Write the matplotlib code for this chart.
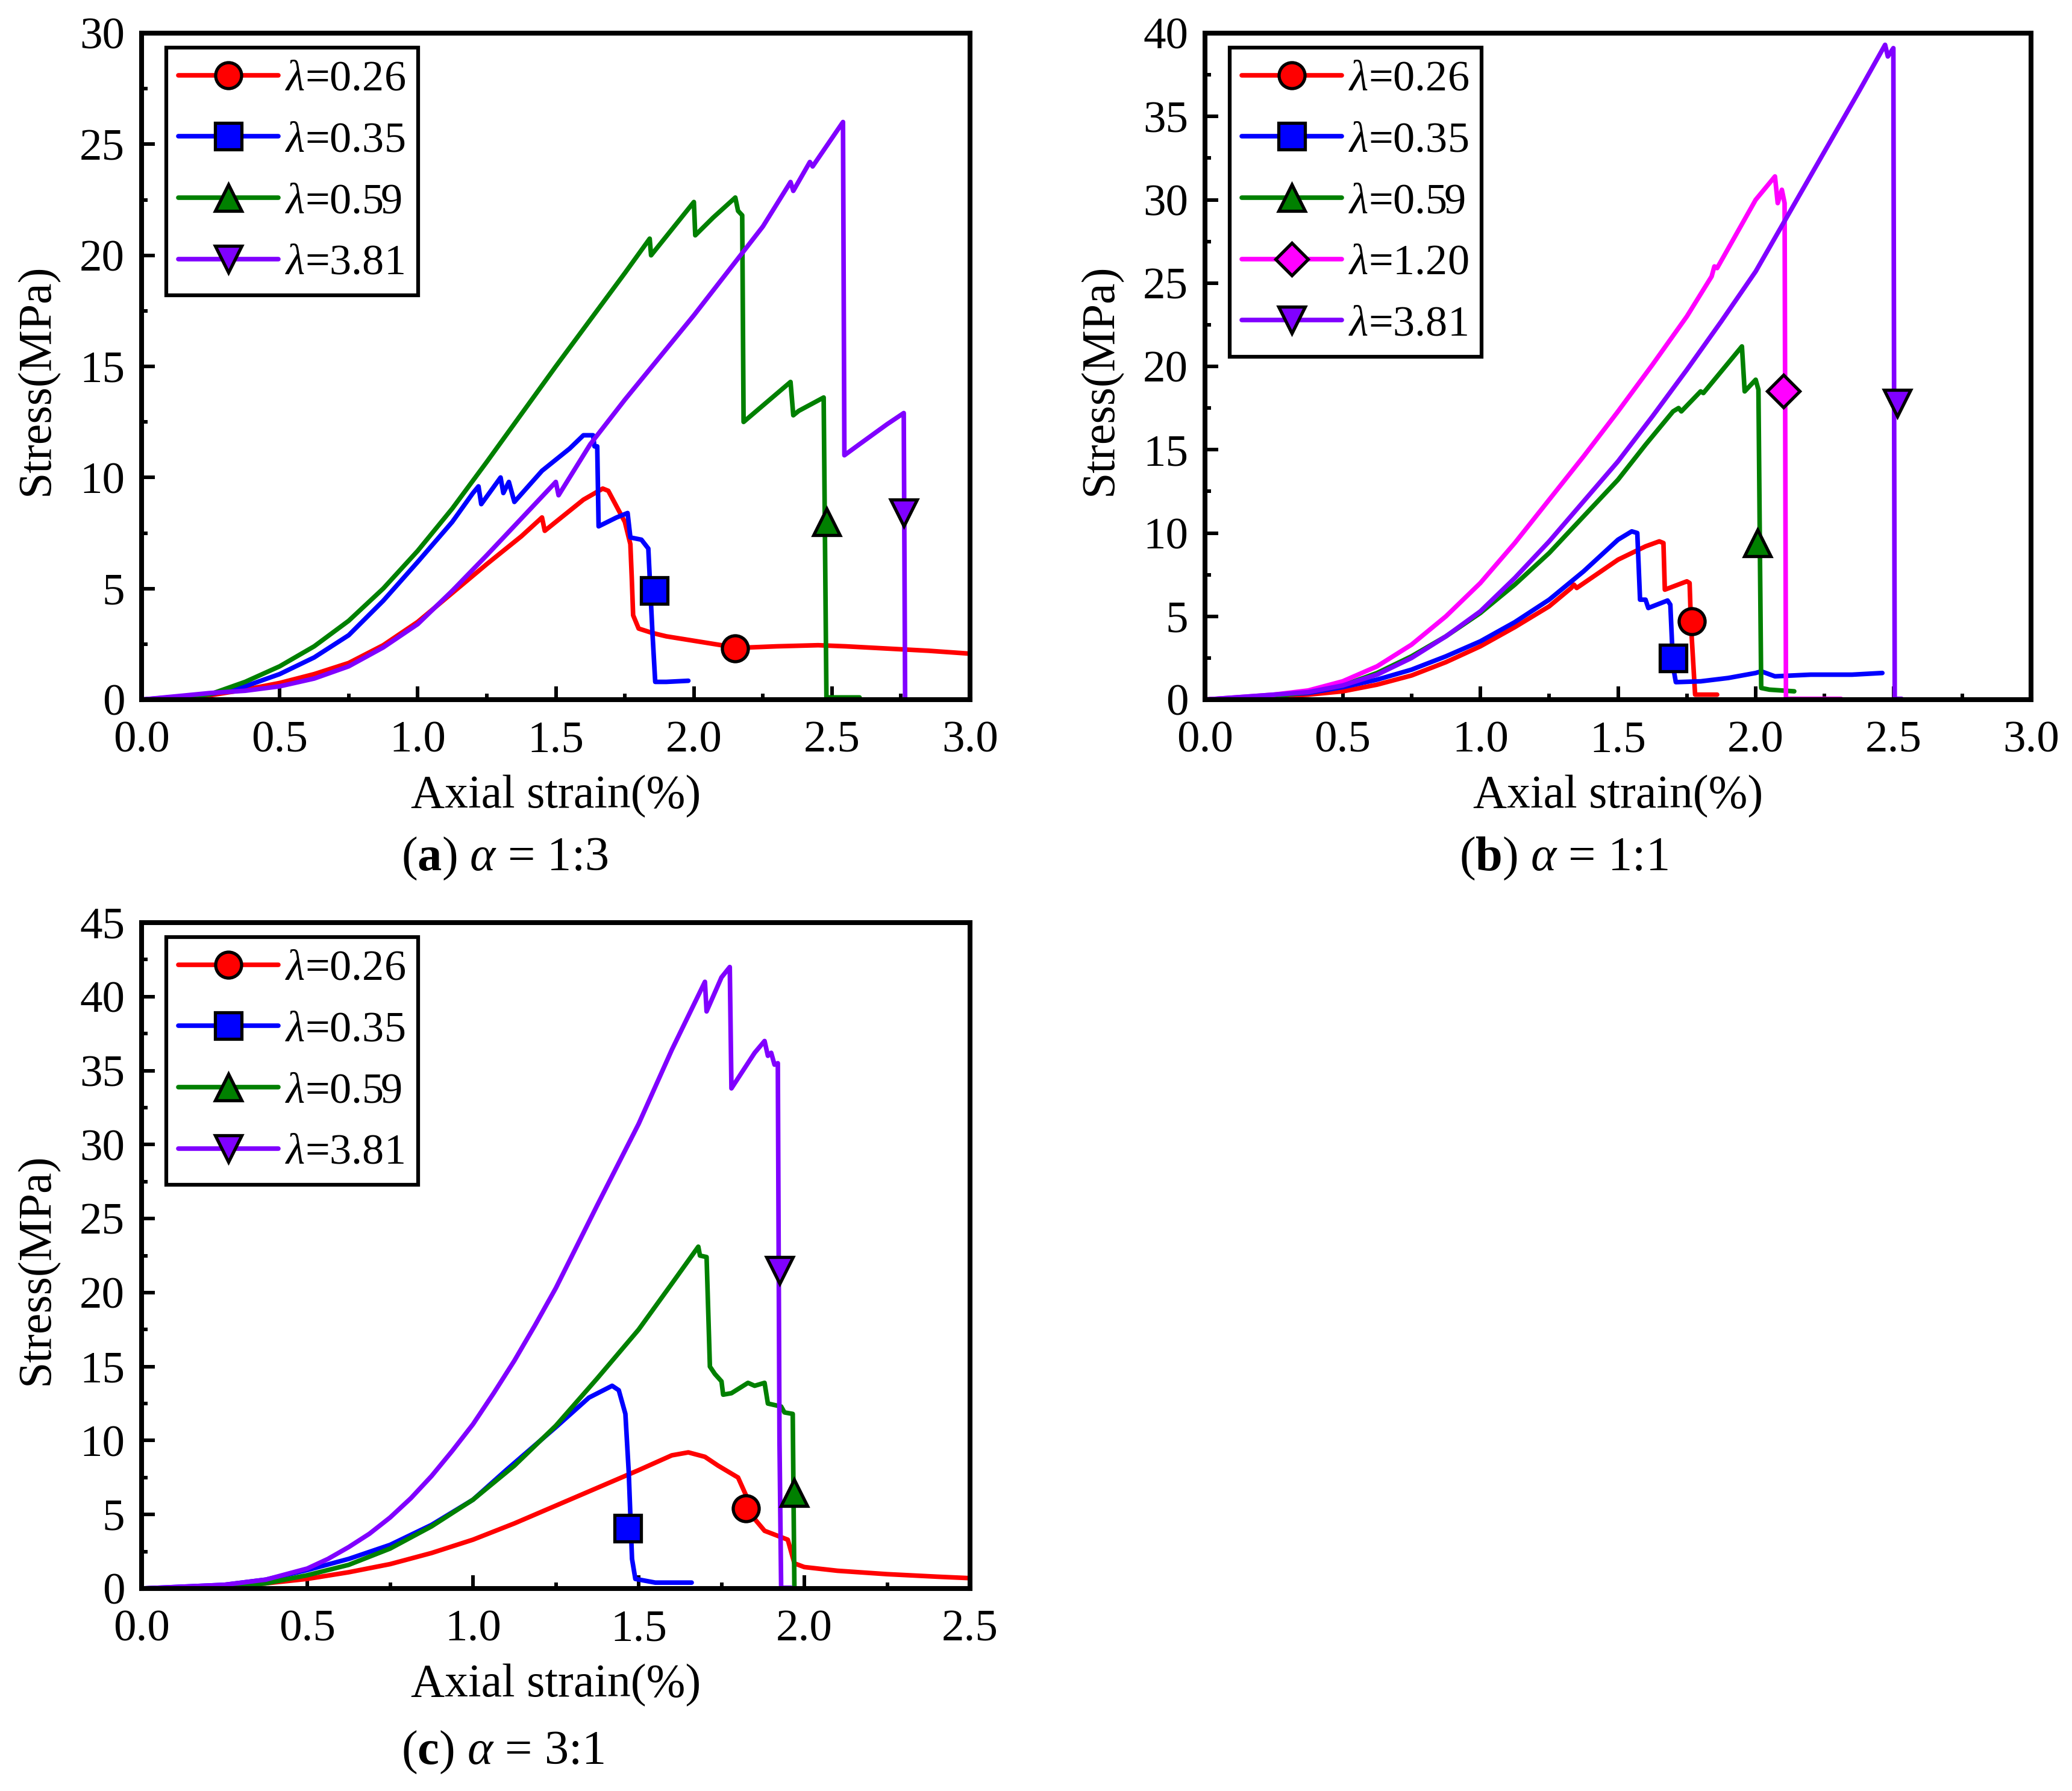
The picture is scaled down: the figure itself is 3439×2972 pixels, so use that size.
import matplotlib
matplotlib.use("Agg")
import matplotlib.pyplot as plt
from matplotlib.lines import Line2D
from matplotlib.ticker import MultipleLocator

plt.rcParams['font.family'] = ['Liberation Serif', 'DejaVu Serif']
plt.rcParams['mathtext.fontset'] = 'custom'
plt.rcParams['mathtext.rm'] = 'Liberation Serif'
plt.rcParams['mathtext.it'] = 'Liberation Serif:italic'
plt.rcParams['mathtext.bf'] = 'Liberation Serif:bold'

# ---------------- data ----------------
labels = ['0.26', '0.35', '0.59', '1.20', '3.81']
colors = {'0.26': '#FF0000', '0.35': '#0000FF', '0.59': '#008000',
          '1.20': '#FF00FF', '3.81': '#8000FF'}
markers = {'0.26': 'o', '0.35': 's', '0.59': '^', '1.20': 'D', '3.81': 'v'}

# Panel (a) alpha = 1:3
a_red_x = [0, 0.25, 0.375, 0.5, 0.625, 0.75, 0.875, 1.0, 1.125, 1.25, 1.375, 1.45, 1.46, 1.5, 1.6, 1.67, 1.69, 1.72, 1.75, 1.77, 1.775, 1.78, 1.8, 1.85, 1.9, 2.0, 2.1, 2.15, 2.2, 2.3, 2.45, 2.55, 2.7, 2.85, 3.0]
a_red_y = [0, 0.2, 0.45, 0.75, 1.15, 1.65, 2.45, 3.5, 4.8, 6.1, 7.35, 8.2, 7.6, 8.0, 9.0, 9.5, 9.4, 8.7, 8.0, 7.0, 5.5, 3.8, 3.2, 3.0, 2.85, 2.65, 2.45, 2.3, 2.35, 2.4, 2.45, 2.4, 2.3, 2.2, 2.07]
a_blue_x = [0, 0.25, 0.375, 0.5, 0.625, 0.75, 0.875, 1.0, 1.125, 1.2, 1.22, 1.23, 1.3, 1.31, 1.33, 1.35, 1.45, 1.55, 1.6, 1.635, 1.64, 1.65, 1.655, 1.72, 1.76, 1.77, 1.81, 1.835, 1.85, 1.86, 1.9, 1.98]
a_blue_y = [0, 0.25, 0.6, 1.15, 1.9, 2.9, 4.45, 6.2, 8.0, 9.3, 9.6, 8.8, 10.0, 9.3, 9.8, 8.9, 10.3, 11.3, 11.9, 11.9, 11.4, 11.4, 7.8, 8.2, 8.4, 7.3, 7.2, 6.8, 3.0, 0.8, 0.8, 0.85]
a_green_x = [0, 0.125, 0.25, 0.375, 0.5, 0.625, 0.75, 0.875, 1.0, 1.125, 1.25, 1.375, 1.5, 1.625, 1.75, 1.84, 1.845, 2.0, 2.005, 2.07, 2.15, 2.16, 2.175, 2.18, 2.35, 2.36, 2.38, 2.47, 2.48, 2.6]
a_green_y = [0, 0.05, 0.25, 0.8, 1.5, 2.4, 3.55, 5.0, 6.7, 8.6, 10.7, 12.85, 15.0, 17.1, 19.2, 20.75, 20.0, 22.4, 20.9, 21.7, 22.6, 22.0, 21.8, 12.5, 14.3, 12.8, 13.0, 13.6, 0.1, 0.1]
a_purple_x = [0, 0.25, 0.375, 0.5, 0.625, 0.75, 0.875, 1.0, 1.125, 1.25, 1.375, 1.5, 1.51, 1.625, 1.75, 1.875, 2.0, 2.125, 2.25, 2.35, 2.36, 2.42, 2.43, 2.54, 2.545, 2.6, 2.7, 2.76, 2.765]
a_purple_y = [0, 0.3, 0.4, 0.6, 0.95, 1.5, 2.35, 3.4, 4.9, 6.5, 8.15, 9.8, 9.2, 11.5, 13.5, 15.4, 17.3, 19.3, 21.3, 23.3, 22.9, 24.2, 24.0, 26.0, 11.0, 11.5, 12.4, 12.9, 0]
a_marker_x = [2.15, 1.856, 2.48, 2.76]
a_marker_y = [2.3, 4.9, 8.0, 8.4]

# Panel (b) alpha = 1:1
b_red_x = [0, 0.25, 0.375, 0.5, 0.625, 0.75, 0.875, 1.0, 1.125, 1.25, 1.33, 1.34, 1.35, 1.5, 1.6, 1.65, 1.665, 1.67, 1.75, 1.76, 1.765, 1.78, 1.86]
b_red_y = [0, 0.2, 0.3, 0.5, 0.9, 1.45, 2.25, 3.2, 4.35, 5.6, 6.7, 6.9, 6.7, 8.4, 9.2, 9.5, 9.4, 6.6, 7.1, 7.0, 4.5, 0.3, 0.3]
b_blue_x = [0, 0.25, 0.375, 0.5, 0.625, 0.75, 0.875, 1.0, 1.125, 1.25, 1.375, 1.5, 1.55, 1.57, 1.58, 1.6, 1.61, 1.68, 1.69, 1.70, 1.71, 1.8, 1.9, 2.0, 2.02, 2.07, 2.2, 2.35, 2.46]
b_blue_y = [0, 0.25, 0.4, 0.75, 1.2, 1.8, 2.6, 3.5, 4.65, 6.0, 7.7, 9.6, 10.1, 10.0, 6.0, 6.0, 5.5, 5.95, 5.7, 2.0, 1.05, 1.1, 1.3, 1.6, 1.7, 1.4, 1.5, 1.5, 1.6]
b_green_x = [0, 0.25, 0.375, 0.5, 0.625, 0.75, 0.875, 1.0, 1.125, 1.25, 1.375, 1.5, 1.6, 1.7, 1.72, 1.73, 1.8, 1.81, 1.95, 1.96, 2.0, 2.01, 2.015, 2.02, 2.05, 2.14]
b_green_y = [0, 0.2, 0.45, 0.85, 1.6, 2.6, 3.8, 5.2, 6.9, 8.8, 11.0, 13.2, 15.3, 17.3, 17.5, 17.3, 18.5, 18.4, 21.2, 18.5, 19.2, 18.6, 9.5, 0.7, 0.6, 0.5]
b_mag_x = [0, 0.25, 0.375, 0.5, 0.625, 0.75, 0.875, 1.0, 1.125, 1.25, 1.375, 1.5, 1.625, 1.75, 1.84, 1.85, 1.86, 2.0, 2.07, 2.08, 2.095, 2.105, 2.11, 2.31]
b_mag_y = [0, 0.3, 0.55, 1.1, 2.0, 3.3, 5.0, 7.0, 9.4, 12.0, 14.6, 17.3, 20.1, 23.0, 25.4, 26.0, 25.9, 30.0, 31.4, 29.8, 30.6, 29.8, 0.05, 0.05]
b_purple_x = [0, 0.25, 0.375, 0.5, 0.625, 0.75, 0.875, 1.0, 1.125, 1.25, 1.375, 1.5, 1.625, 1.75, 1.875, 2.0, 2.125, 2.25, 2.375, 2.47, 2.48, 2.50, 2.505, 2.53]
b_purple_y = [0, 0.3, 0.45, 0.85, 1.5, 2.5, 3.8, 5.3, 7.3, 9.5, 11.9, 14.3, 17.0, 19.8, 22.7, 25.7, 29.3, 32.9, 36.5, 39.3, 38.6, 39.1, 0.05, 0.05]
b_marker_x = [1.767, 1.70, 2.006, 2.10, 2.514]
b_marker_y = [4.7, 2.5, 9.4, 18.5, 17.8]

# Panel (c) alpha = 3:1
c_red_x = [0, 0.25, 0.375, 0.5, 0.625, 0.75, 0.875, 1.0, 1.125, 1.25, 1.375, 1.5, 1.6, 1.65, 1.7, 1.74, 1.8, 1.83, 1.85, 1.88, 1.95, 1.97, 2.0, 2.1, 2.25, 2.4, 2.5]
c_red_y = [0, 0.15, 0.35, 0.65, 1.1, 1.65, 2.4, 3.3, 4.4, 5.6, 6.8, 8.0, 9.0, 9.2, 8.9, 8.3, 7.5, 6.0, 4.7, 3.9, 3.3, 1.7, 1.45, 1.2, 0.97, 0.8, 0.7]
c_blue_x = [0, 0.25, 0.375, 0.5, 0.625, 0.75, 0.875, 1.0, 1.1, 1.25, 1.35, 1.42, 1.44, 1.46, 1.47, 1.48, 1.49, 1.55, 1.66]
c_blue_y = [0, 0.25, 0.6, 1.25, 2.0, 2.95, 4.3, 6.0, 8.0, 10.9, 12.9, 13.7, 13.4, 11.8, 7.9, 2.0, 0.65, 0.4, 0.4]
c_green_x = [0, 0.25, 0.375, 0.5, 0.625, 0.75, 0.875, 1.0, 1.125, 1.25, 1.375, 1.5, 1.6, 1.68, 1.685, 1.705, 1.715, 1.73, 1.75, 1.755, 1.78, 1.83, 1.85, 1.88, 1.89, 1.93, 1.94, 1.965, 1.97]
c_green_y = [0, 0.1, 0.35, 0.9, 1.6, 2.7, 4.2, 6.0, 8.3, 11.0, 14.2, 17.5, 20.6, 23.1, 22.5, 22.4, 15.0, 14.5, 14.0, 13.1, 13.2, 13.9, 13.7, 13.9, 12.5, 12.3, 11.9, 11.8, 0]
c_purple_x = [0, 0.25, 0.375, 0.5, 0.5625, 0.625, 0.6875, 0.75, 0.8125, 0.875, 0.9375, 1.0, 1.0625, 1.125, 1.1875, 1.25, 1.375, 1.5, 1.6, 1.7, 1.705, 1.75, 1.775, 1.78, 1.85, 1.88, 1.89, 1.90, 1.91, 1.92, 1.925, 1.93, 1.96]
c_purple_y = [0, 0.25, 0.6, 1.35, 2.0, 2.8, 3.7, 4.8, 6.1, 7.6, 9.3, 11.1, 13.2, 15.4, 17.8, 20.3, 25.9, 31.4, 36.4, 41.0, 39.0, 41.3, 42.0, 33.8, 36.2, 37.0, 36.0, 36.2, 35.4, 35.5, 10.0, 0.05, 0.05]
c_marker_x = [1.824, 1.468, 1.969, 1.926]
c_marker_y = [5.4, 4.06, 6.46, 21.5]

panels = [
    dict(key='a', ratio='1:3', xlim=3.0, ylim=30, ytick=5,
         series=[('0.26', a_red_x, a_red_y), ('0.35', a_blue_x, a_blue_y),
                 ('0.59', a_green_x, a_green_y), ('3.81', a_purple_x, a_purple_y)],
         mx=a_marker_x, my=a_marker_y),
    dict(key='b', ratio='1:1', xlim=3.0, ylim=40, ytick=5,
         series=[('0.26', b_red_x, b_red_y), ('0.35', b_blue_x, b_blue_y),
                 ('0.59', b_green_x, b_green_y), ('1.20', b_mag_x, b_mag_y),
                 ('3.81', b_purple_x, b_purple_y)],
         mx=b_marker_x, my=b_marker_y),
    dict(key='c', ratio='3:1', xlim=2.5, ylim=45, ytick=5,
         series=[('0.26', c_red_x, c_red_y), ('0.35', c_blue_x, c_blue_y),
                 ('0.59', c_green_x, c_green_y), ('3.81', c_purple_x, c_purple_y)],
         mx=c_marker_x, my=c_marker_y),
]

W, H = 3439, 2972
fig = plt.figure(figsize=(W / 100, H / 100), dpi=100)

rects = {
    'a': (235, 55, 1375, 1106),
    'b': (2000, 55, 1371, 1106),
    'c': (235, 1531, 1375, 1105),
}
captions = {'a': (838, 1425), 'b': (2595, 1425), 'c': (835, 2908)}

LW = 5.5
MS = 31
MEW = 3.8
TICKFS = 54


def msize(m):
    return MS * 0.9 if m == 'D' else MS


for p in panels:
    l, t, w, h = rects[p['key']]
    ax = fig.add_axes([l / W, 1 - (t + h) / H, w / W, h / H])
    handles = []
    for (lab, xs, ys), mx, my in zip(p['series'], p['mx'], p['my']):
        c = colors[lab]
        m = markers[lab]
        ax.plot(xs, ys, color=c, lw=LW, solid_capstyle='round', solid_joinstyle='round', zorder=2)
        ax.plot([mx], [my], ls='none', marker=m, ms=msize(m),
                mfc=c, mec='black', mew=MEW, zorder=3)
        handles.append(Line2D([], [], color=c, lw=LW, marker=m, ms=msize(m),
                              mfc=c, mec='black', mew=MEW,
                              solid_capstyle='round',
                              label=r'$\lambda$=' + lab))
    ax.set_xlim(0, p['xlim'])
    ax.set_ylim(0, p['ylim'])
    ax.xaxis.set_major_locator(MultipleLocator(0.5))
    ax.xaxis.set_minor_locator(MultipleLocator(0.25))
    ax.yaxis.set_major_locator(MultipleLocator(p['ytick']))
    ax.yaxis.set_minor_locator(MultipleLocator(p['ytick'] / 2))
    ax.tick_params(which='both', direction='in', top=False, right=False, width=4.3)
    ax.tick_params(which='major', length=16, labelsize=TICKFS)
    ax.tick_params(axis='x', which='major', pad=25)
    ax.tick_params(axis='y', which='major', pad=20)
    ax.tick_params(which='minor', length=7)
    for s in ax.spines.values():
        s.set_linewidth(5.8)
    ax.set_xlabel('Axial strain(%)', fontsize=56)
    ax.set_ylabel('Stress(MPa)', fontsize=56)
    ax.xaxis.label.set_va('center')
    ax.yaxis.label.set_va('center')
    ax.xaxis.set_label_coords(0.5, (1161 - 1322) / 1106)
    ax.yaxis.set_label_coords((61 - 235) / 1375, 0.48)
    leg = ax.legend(handles=handles, loc='upper left',
                    bbox_to_anchor=(41 / w, 1 - 24 / h), borderaxespad=0,
                    fontsize=52, handlelength=2.3, handletextpad=0.15,
                    borderpad=0.28, labelspacing=0.5, numpoints=1,
                    fancybox=False, framealpha=1, edgecolor='black')
    leg.get_frame().set_linewidth(4.5)
    cx, cy = captions[p['key']]
    fig.text(cx / W, 1 - cy / H, r'($\mathbf{' + p['key'] + r'}$) $\alpha$ = ' + p['ratio'],
             ha='center', va='center', fontsize=58)

fig.savefig('out.png', dpi=100)
